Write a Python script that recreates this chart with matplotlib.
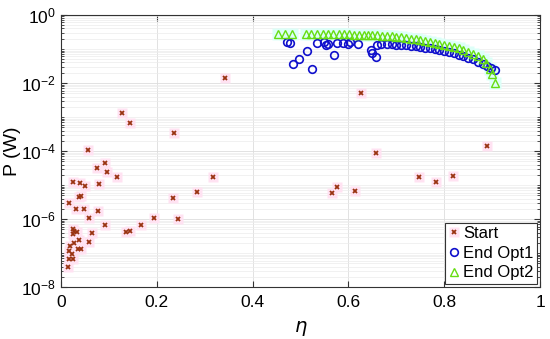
import numpy as np
import matplotlib
matplotlib.use('Agg')
import matplotlib.pyplot as plt
from matplotlib.ticker import LogLocator, NullFormatter, FixedLocator

plt.rcParams['font.family'] = ['Liberation Sans', 'DejaVu Sans']

# Start points: efficiency and log10 of power
start_eta = [0.342, 0.626, 0.658, 0.127, 0.144, 0.236, 0.057, 0.092, 0.075, 0.096,
             0.117, 0.025, 0.040, 0.050, 0.079, 0.038, 0.041, 0.017, 0.032, 0.048,
             0.077, 0.058, 0.092, 0.025, 0.027, 0.034, 0.064, 0.024, 0.038, 0.058,
             0.027, 0.019, 0.035, 0.042, 0.017, 0.022, 0.017, 0.024, 0.015, 0.136,
             0.144, 0.167, 0.194, 0.245, 0.233, 0.283, 0.318, 0.566, 0.576, 0.614,
             0.748, 0.783, 0.818, 0.889]
start_logp = [-1.85, -2.29, -4.06, -2.88, -3.18, -3.47, -3.97, -4.36, -4.50, -4.62,
              -4.76, -4.91, -4.94, -5.03, -4.97, -5.35, -5.32, -5.53, -5.71, -5.71,
              -5.76, -5.97, -6.18, -6.29, -6.36, -6.38, -6.40, -6.44, -6.62, -6.68,
              -6.70, -6.80, -6.89, -6.89, -6.94, -7.03, -7.18, -7.18, -7.41, -6.38,
              -6.35, -6.18, -5.97, -6.00, -5.38, -5.20, -4.76, -5.24, -5.06, -5.18,
              -4.77, -4.91, -4.74, -3.85]

opt1_eta = [0.472, 0.478, 0.484, 0.497, 0.513, 0.524, 0.534, 0.549, 0.553, 0.557,
            0.570, 0.576, 0.589, 0.599, 0.603, 0.620, 0.647, 0.650, 0.658, 0.660,
            0.668, 0.680, 0.690, 0.700, 0.710, 0.720, 0.730, 0.740, 0.750, 0.760,
            0.770, 0.780, 0.790, 0.800, 0.810, 0.820, 0.830, 0.840, 0.850, 0.860,
            0.870, 0.880, 0.890, 0.898, 0.905]
opt1_logp = [-0.80, -0.83, -1.45, -1.29, -1.05, -1.60, -0.82, -0.80, -0.88, -0.86,
             -1.17, -0.82, -0.83, -0.86, -0.80, -0.85, -1.03, -1.13, -1.23, -0.88,
             -0.85, -0.85, -0.86, -0.87, -0.88, -0.89, -0.90, -0.92, -0.94, -0.96,
             -0.98, -1.00, -1.03, -1.06, -1.09, -1.13, -1.17, -1.21, -1.26, -1.31,
             -1.37, -1.43, -1.50, -1.57, -1.63]

opt2_eta = [0.453, 0.467, 0.482, 0.511, 0.522, 0.534, 0.546, 0.557, 0.568, 0.580,
            0.591, 0.602, 0.612, 0.622, 0.632, 0.641, 0.650, 0.660, 0.670, 0.680,
            0.690, 0.700, 0.710, 0.720, 0.730, 0.740, 0.750, 0.760, 0.770, 0.780,
            0.790, 0.800, 0.810, 0.820, 0.830, 0.840, 0.850, 0.860, 0.870, 0.880,
            0.888, 0.895, 0.900, 0.906]
opt2_logp = [-0.57, -0.57, -0.57, -0.57, -0.57, -0.57, -0.57, -0.57, -0.57, -0.57,
             -0.57, -0.57, -0.58, -0.58, -0.58, -0.59, -0.60, -0.60, -0.61, -0.62,
             -0.63, -0.64, -0.66, -0.68, -0.70, -0.72, -0.75, -0.77, -0.80, -0.82,
             -0.85, -0.88, -0.91, -0.94, -0.98, -1.03, -1.08, -1.14, -1.21, -1.30,
             -1.42, -1.58, -1.75, -2.00]

c_start = '#993311'
c_opt1 = '#1010CC'
c_opt2 = '#66DD11'

fig = plt.figure(figsize=(5.5, 3.39), dpi=100)
ax = fig.add_axes([0.111, 0.153, 0.871, 0.803])

p_start = 10.0 ** np.array(start_logp)
p_opt1 = 10.0 ** np.array(opt1_logp)
p_opt2 = 10.0 ** np.array(opt2_logp)

# faint halos behind the markers
h1, = ax.plot(start_eta, p_start, 's', ms=7, color='#FFE2F2', mec='none', zorder=2)
ax.plot(opt2_eta, p_opt2, 's', ms=8, color='#DDFFF8', mec='none', zorder=2)

m1, = ax.plot(start_eta, p_start, 'x', ms=3.5, mew=1.3, color=c_start, zorder=3)
m2, = ax.plot(opt1_eta, p_opt1, 'o', ms=5.5, mew=1.2, mfc='none', mec=c_opt1, zorder=3)
m3, = ax.plot(opt2_eta, p_opt2, '^', ms=6, mew=1.0, mfc='none', mec=c_opt2, zorder=4)

ax.set_yscale('log')
ax.set_xlim(0, 1)
ax.set_ylim(1e-8, 1)
ax.xaxis.set_major_locator(FixedLocator([0, 0.2, 0.4, 0.6, 0.8, 1.0]))
ax.set_xticklabels(['0', '0.2', '0.4', '0.6', '0.8', '1'])
ax.yaxis.set_major_locator(FixedLocator([1e-8, 1e-6, 1e-4, 1e-2, 1]))
ax.yaxis.set_minor_locator(LogLocator(base=10, subs=np.arange(1, 10), numticks=20))
ax.yaxis.set_minor_formatter(NullFormatter())
ax.set_yticklabels([r'$\mathregular{10^{-8}}$', r'$\mathregular{10^{-6}}$',
                    r'$\mathregular{10^{-4}}$', r'$\mathregular{10^{-2}}$',
                    r'$\mathregular{10^{0}}$'])

ax.grid(True, which='major', color='#DDDDDD', lw=0.6)
ax.grid(True, which='minor', axis='y', color='#EBEBEB', lw=0.5)
ax.set_axisbelow(True)
ax.tick_params(which='both', direction='in', top=True, right=True,
               labelsize=12.5, color='#333333')
ax.tick_params(axis='x', pad=6)
ax.tick_params(which='major', length=4)
ax.tick_params(which='minor', length=2)
for s in ax.spines.values():
    s.set_color('#333333')
    s.set_linewidth(0.8)

ax.set_ylabel('P (W)', fontsize=14, labelpad=0)
ax.set_xlabel(r'$\eta$', fontsize=14, labelpad=6)

leg = ax.legend([(h1, m1), m2, m3], ['Start', 'End Opt1', 'End Opt2'],
                loc='lower right', fontsize=12, handlelength=0.6,
                handletextpad=0.25, borderpad=0.2, labelspacing=0.28,
                borderaxespad=0.2, fancybox=False, framealpha=1,
                edgecolor='#333333')
leg.get_frame().set_linewidth(0.8)

fig.savefig('out.png', dpi=100)
